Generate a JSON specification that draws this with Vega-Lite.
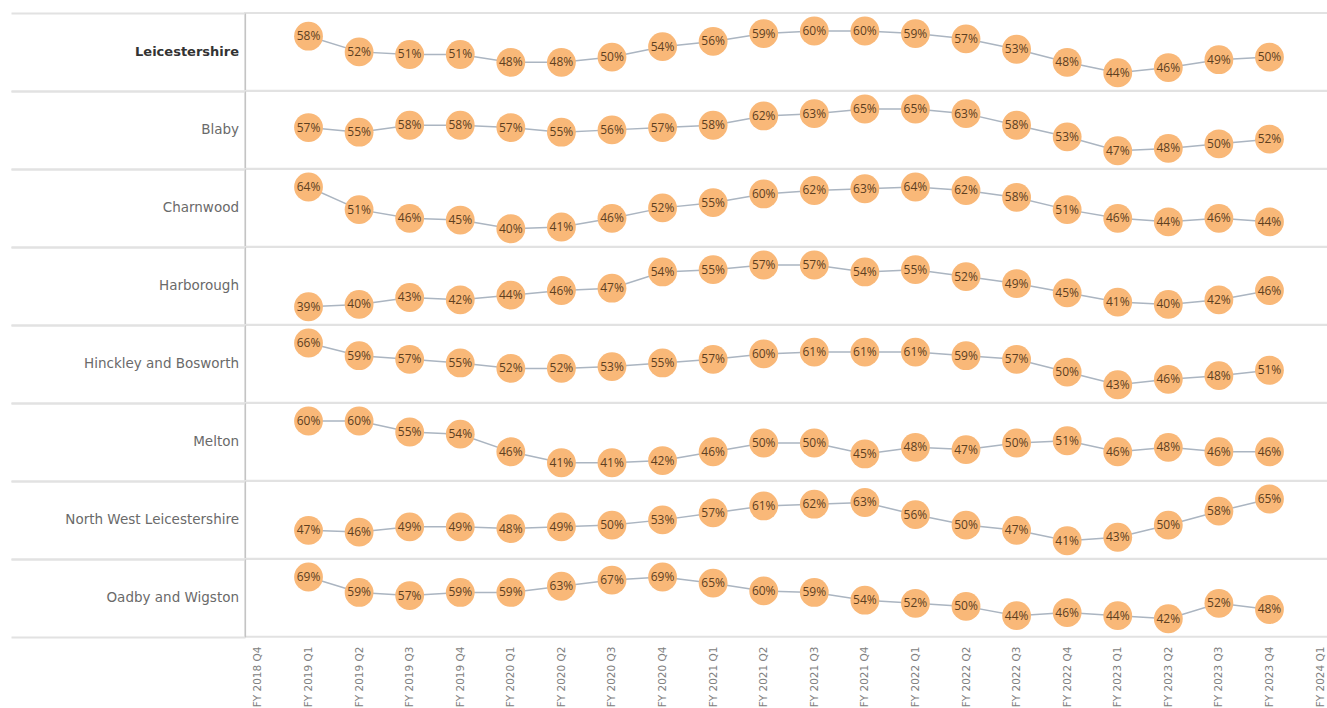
{
  "$schema": "https://vega.github.io/schema/vega-lite/v6.json",
  "background": "white",
  "bounds": "flush",
  "padding": {"left": 9, "top": 11, "right": 0, "bottom": 0},
  "datasets": {
    "d": [
      {"area": "Leicestershire", "quarter": "FY 2019 Q1", "value": 0.58},
      {"area": "Leicestershire", "quarter": "FY 2019 Q2", "value": 0.52},
      {"area": "Leicestershire", "quarter": "FY 2019 Q3", "value": 0.51},
      {"area": "Leicestershire", "quarter": "FY 2019 Q4", "value": 0.51},
      {"area": "Leicestershire", "quarter": "FY 2020 Q1", "value": 0.48},
      {"area": "Leicestershire", "quarter": "FY 2020 Q2", "value": 0.48},
      {"area": "Leicestershire", "quarter": "FY 2020 Q3", "value": 0.50},
      {"area": "Leicestershire", "quarter": "FY 2020 Q4", "value": 0.54},
      {"area": "Leicestershire", "quarter": "FY 2021 Q1", "value": 0.56},
      {"area": "Leicestershire", "quarter": "FY 2021 Q2", "value": 0.59},
      {"area": "Leicestershire", "quarter": "FY 2021 Q3", "value": 0.60},
      {"area": "Leicestershire", "quarter": "FY 2021 Q4", "value": 0.60},
      {"area": "Leicestershire", "quarter": "FY 2022 Q1", "value": 0.59},
      {"area": "Leicestershire", "quarter": "FY 2022 Q2", "value": 0.57},
      {"area": "Leicestershire", "quarter": "FY 2022 Q3", "value": 0.53},
      {"area": "Leicestershire", "quarter": "FY 2022 Q4", "value": 0.48},
      {"area": "Leicestershire", "quarter": "FY 2023 Q1", "value": 0.44},
      {"area": "Leicestershire", "quarter": "FY 2023 Q2", "value": 0.46},
      {"area": "Leicestershire", "quarter": "FY 2023 Q3", "value": 0.49},
      {"area": "Leicestershire", "quarter": "FY 2023 Q4", "value": 0.50},
      {"area": "Blaby", "quarter": "FY 2019 Q1", "value": 0.57},
      {"area": "Blaby", "quarter": "FY 2019 Q2", "value": 0.55},
      {"area": "Blaby", "quarter": "FY 2019 Q3", "value": 0.58},
      {"area": "Blaby", "quarter": "FY 2019 Q4", "value": 0.58},
      {"area": "Blaby", "quarter": "FY 2020 Q1", "value": 0.57},
      {"area": "Blaby", "quarter": "FY 2020 Q2", "value": 0.55},
      {"area": "Blaby", "quarter": "FY 2020 Q3", "value": 0.56},
      {"area": "Blaby", "quarter": "FY 2020 Q4", "value": 0.57},
      {"area": "Blaby", "quarter": "FY 2021 Q1", "value": 0.58},
      {"area": "Blaby", "quarter": "FY 2021 Q2", "value": 0.62},
      {"area": "Blaby", "quarter": "FY 2021 Q3", "value": 0.63},
      {"area": "Blaby", "quarter": "FY 2021 Q4", "value": 0.65},
      {"area": "Blaby", "quarter": "FY 2022 Q1", "value": 0.65},
      {"area": "Blaby", "quarter": "FY 2022 Q2", "value": 0.63},
      {"area": "Blaby", "quarter": "FY 2022 Q3", "value": 0.58},
      {"area": "Blaby", "quarter": "FY 2022 Q4", "value": 0.53},
      {"area": "Blaby", "quarter": "FY 2023 Q1", "value": 0.47},
      {"area": "Blaby", "quarter": "FY 2023 Q2", "value": 0.48},
      {"area": "Blaby", "quarter": "FY 2023 Q3", "value": 0.50},
      {"area": "Blaby", "quarter": "FY 2023 Q4", "value": 0.52},
      {"area": "Charnwood", "quarter": "FY 2019 Q1", "value": 0.64},
      {"area": "Charnwood", "quarter": "FY 2019 Q2", "value": 0.51},
      {"area": "Charnwood", "quarter": "FY 2019 Q3", "value": 0.46},
      {"area": "Charnwood", "quarter": "FY 2019 Q4", "value": 0.45},
      {"area": "Charnwood", "quarter": "FY 2020 Q1", "value": 0.40},
      {"area": "Charnwood", "quarter": "FY 2020 Q2", "value": 0.41},
      {"area": "Charnwood", "quarter": "FY 2020 Q3", "value": 0.46},
      {"area": "Charnwood", "quarter": "FY 2020 Q4", "value": 0.52},
      {"area": "Charnwood", "quarter": "FY 2021 Q1", "value": 0.55},
      {"area": "Charnwood", "quarter": "FY 2021 Q2", "value": 0.60},
      {"area": "Charnwood", "quarter": "FY 2021 Q3", "value": 0.62},
      {"area": "Charnwood", "quarter": "FY 2021 Q4", "value": 0.63},
      {"area": "Charnwood", "quarter": "FY 2022 Q1", "value": 0.64},
      {"area": "Charnwood", "quarter": "FY 2022 Q2", "value": 0.62},
      {"area": "Charnwood", "quarter": "FY 2022 Q3", "value": 0.58},
      {"area": "Charnwood", "quarter": "FY 2022 Q4", "value": 0.51},
      {"area": "Charnwood", "quarter": "FY 2023 Q1", "value": 0.46},
      {"area": "Charnwood", "quarter": "FY 2023 Q2", "value": 0.44},
      {"area": "Charnwood", "quarter": "FY 2023 Q3", "value": 0.46},
      {"area": "Charnwood", "quarter": "FY 2023 Q4", "value": 0.44},
      {"area": "Harborough", "quarter": "FY 2019 Q1", "value": 0.39},
      {"area": "Harborough", "quarter": "FY 2019 Q2", "value": 0.40},
      {"area": "Harborough", "quarter": "FY 2019 Q3", "value": 0.43},
      {"area": "Harborough", "quarter": "FY 2019 Q4", "value": 0.42},
      {"area": "Harborough", "quarter": "FY 2020 Q1", "value": 0.44},
      {"area": "Harborough", "quarter": "FY 2020 Q2", "value": 0.46},
      {"area": "Harborough", "quarter": "FY 2020 Q3", "value": 0.47},
      {"area": "Harborough", "quarter": "FY 2020 Q4", "value": 0.54},
      {"area": "Harborough", "quarter": "FY 2021 Q1", "value": 0.55},
      {"area": "Harborough", "quarter": "FY 2021 Q2", "value": 0.57},
      {"area": "Harborough", "quarter": "FY 2021 Q3", "value": 0.57},
      {"area": "Harborough", "quarter": "FY 2021 Q4", "value": 0.54},
      {"area": "Harborough", "quarter": "FY 2022 Q1", "value": 0.55},
      {"area": "Harborough", "quarter": "FY 2022 Q2", "value": 0.52},
      {"area": "Harborough", "quarter": "FY 2022 Q3", "value": 0.49},
      {"area": "Harborough", "quarter": "FY 2022 Q4", "value": 0.45},
      {"area": "Harborough", "quarter": "FY 2023 Q1", "value": 0.41},
      {"area": "Harborough", "quarter": "FY 2023 Q2", "value": 0.40},
      {"area": "Harborough", "quarter": "FY 2023 Q3", "value": 0.42},
      {"area": "Harborough", "quarter": "FY 2023 Q4", "value": 0.46},
      {"area": "Hinckley and Bosworth", "quarter": "FY 2019 Q1", "value": 0.66},
      {"area": "Hinckley and Bosworth", "quarter": "FY 2019 Q2", "value": 0.59},
      {"area": "Hinckley and Bosworth", "quarter": "FY 2019 Q3", "value": 0.57},
      {"area": "Hinckley and Bosworth", "quarter": "FY 2019 Q4", "value": 0.55},
      {"area": "Hinckley and Bosworth", "quarter": "FY 2020 Q1", "value": 0.52},
      {"area": "Hinckley and Bosworth", "quarter": "FY 2020 Q2", "value": 0.52},
      {"area": "Hinckley and Bosworth", "quarter": "FY 2020 Q3", "value": 0.53},
      {"area": "Hinckley and Bosworth", "quarter": "FY 2020 Q4", "value": 0.55},
      {"area": "Hinckley and Bosworth", "quarter": "FY 2021 Q1", "value": 0.57},
      {"area": "Hinckley and Bosworth", "quarter": "FY 2021 Q2", "value": 0.60},
      {"area": "Hinckley and Bosworth", "quarter": "FY 2021 Q3", "value": 0.61},
      {"area": "Hinckley and Bosworth", "quarter": "FY 2021 Q4", "value": 0.61},
      {"area": "Hinckley and Bosworth", "quarter": "FY 2022 Q1", "value": 0.61},
      {"area": "Hinckley and Bosworth", "quarter": "FY 2022 Q2", "value": 0.59},
      {"area": "Hinckley and Bosworth", "quarter": "FY 2022 Q3", "value": 0.57},
      {"area": "Hinckley and Bosworth", "quarter": "FY 2022 Q4", "value": 0.50},
      {"area": "Hinckley and Bosworth", "quarter": "FY 2023 Q1", "value": 0.43},
      {"area": "Hinckley and Bosworth", "quarter": "FY 2023 Q2", "value": 0.46},
      {"area": "Hinckley and Bosworth", "quarter": "FY 2023 Q3", "value": 0.48},
      {"area": "Hinckley and Bosworth", "quarter": "FY 2023 Q4", "value": 0.51},
      {"area": "Melton", "quarter": "FY 2019 Q1", "value": 0.60},
      {"area": "Melton", "quarter": "FY 2019 Q2", "value": 0.60},
      {"area": "Melton", "quarter": "FY 2019 Q3", "value": 0.55},
      {"area": "Melton", "quarter": "FY 2019 Q4", "value": 0.54},
      {"area": "Melton", "quarter": "FY 2020 Q1", "value": 0.46},
      {"area": "Melton", "quarter": "FY 2020 Q2", "value": 0.41},
      {"area": "Melton", "quarter": "FY 2020 Q3", "value": 0.41},
      {"area": "Melton", "quarter": "FY 2020 Q4", "value": 0.42},
      {"area": "Melton", "quarter": "FY 2021 Q1", "value": 0.46},
      {"area": "Melton", "quarter": "FY 2021 Q2", "value": 0.50},
      {"area": "Melton", "quarter": "FY 2021 Q3", "value": 0.50},
      {"area": "Melton", "quarter": "FY 2021 Q4", "value": 0.45},
      {"area": "Melton", "quarter": "FY 2022 Q1", "value": 0.48},
      {"area": "Melton", "quarter": "FY 2022 Q2", "value": 0.47},
      {"area": "Melton", "quarter": "FY 2022 Q3", "value": 0.50},
      {"area": "Melton", "quarter": "FY 2022 Q4", "value": 0.51},
      {"area": "Melton", "quarter": "FY 2023 Q1", "value": 0.46},
      {"area": "Melton", "quarter": "FY 2023 Q2", "value": 0.48},
      {"area": "Melton", "quarter": "FY 2023 Q3", "value": 0.46},
      {"area": "Melton", "quarter": "FY 2023 Q4", "value": 0.46},
      {"area": "North West Leicestershire", "quarter": "FY 2019 Q1", "value": 0.47},
      {"area": "North West Leicestershire", "quarter": "FY 2019 Q2", "value": 0.46},
      {"area": "North West Leicestershire", "quarter": "FY 2019 Q3", "value": 0.49},
      {"area": "North West Leicestershire", "quarter": "FY 2019 Q4", "value": 0.49},
      {"area": "North West Leicestershire", "quarter": "FY 2020 Q1", "value": 0.48},
      {"area": "North West Leicestershire", "quarter": "FY 2020 Q2", "value": 0.49},
      {"area": "North West Leicestershire", "quarter": "FY 2020 Q3", "value": 0.50},
      {"area": "North West Leicestershire", "quarter": "FY 2020 Q4", "value": 0.53},
      {"area": "North West Leicestershire", "quarter": "FY 2021 Q1", "value": 0.57},
      {"area": "North West Leicestershire", "quarter": "FY 2021 Q2", "value": 0.61},
      {"area": "North West Leicestershire", "quarter": "FY 2021 Q3", "value": 0.62},
      {"area": "North West Leicestershire", "quarter": "FY 2021 Q4", "value": 0.63},
      {"area": "North West Leicestershire", "quarter": "FY 2022 Q1", "value": 0.56},
      {"area": "North West Leicestershire", "quarter": "FY 2022 Q2", "value": 0.50},
      {"area": "North West Leicestershire", "quarter": "FY 2022 Q3", "value": 0.47},
      {"area": "North West Leicestershire", "quarter": "FY 2022 Q4", "value": 0.41},
      {"area": "North West Leicestershire", "quarter": "FY 2023 Q1", "value": 0.43},
      {"area": "North West Leicestershire", "quarter": "FY 2023 Q2", "value": 0.50},
      {"area": "North West Leicestershire", "quarter": "FY 2023 Q3", "value": 0.58},
      {"area": "North West Leicestershire", "quarter": "FY 2023 Q4", "value": 0.65},
      {"area": "Oadby and Wigston", "quarter": "FY 2019 Q1", "value": 0.69},
      {"area": "Oadby and Wigston", "quarter": "FY 2019 Q2", "value": 0.59},
      {"area": "Oadby and Wigston", "quarter": "FY 2019 Q3", "value": 0.57},
      {"area": "Oadby and Wigston", "quarter": "FY 2019 Q4", "value": 0.59},
      {"area": "Oadby and Wigston", "quarter": "FY 2020 Q1", "value": 0.59},
      {"area": "Oadby and Wigston", "quarter": "FY 2020 Q2", "value": 0.63},
      {"area": "Oadby and Wigston", "quarter": "FY 2020 Q3", "value": 0.67},
      {"area": "Oadby and Wigston", "quarter": "FY 2020 Q4", "value": 0.69},
      {"area": "Oadby and Wigston", "quarter": "FY 2021 Q1", "value": 0.65},
      {"area": "Oadby and Wigston", "quarter": "FY 2021 Q2", "value": 0.60},
      {"area": "Oadby and Wigston", "quarter": "FY 2021 Q3", "value": 0.59},
      {"area": "Oadby and Wigston", "quarter": "FY 2021 Q4", "value": 0.54},
      {"area": "Oadby and Wigston", "quarter": "FY 2022 Q1", "value": 0.52},
      {"area": "Oadby and Wigston", "quarter": "FY 2022 Q2", "value": 0.50},
      {"area": "Oadby and Wigston", "quarter": "FY 2022 Q3", "value": 0.44},
      {"area": "Oadby and Wigston", "quarter": "FY 2022 Q4", "value": 0.46},
      {"area": "Oadby and Wigston", "quarter": "FY 2023 Q1", "value": 0.44},
      {"area": "Oadby and Wigston", "quarter": "FY 2023 Q2", "value": 0.42},
      {"area": "Oadby and Wigston", "quarter": "FY 2023 Q3", "value": 0.52},
      {"area": "Oadby and Wigston", "quarter": "FY 2023 Q4", "value": 0.48}
    ]
  },
  "data": {"name": "d"},
  "facet": {
    "row": {
      "field": "area",
      "type": "nominal",
      "title": null,
      "sort": ["Leicestershire", "Blaby", "Charnwood", "Harborough", "Hinckley and Bosworth", "Melton", "North West Leicestershire", "Oadby and Wigston"],
      "header": {
        "labelAngle": 0,
        "labelAlign": "left",
        "labelPadding": 6,
        "labelFont": "DejaVu Sans",
        "labelFontSize": {"expr": "parent['area'] === 'Leicestershire' ? 13 : 13.5"},
        "labelFontWeight": {"expr": "parent['area'] === 'Leicestershire' ? 'bold' : 'normal'"},
        "labelColor": {"expr": "parent['area'] === 'Leicestershire' ? '#333333' : '#6a6a6a'"}
      }
    }
  },
  "spacing": 0,
  "resolve": {"scale": {"y": "independent"}},
  "spec": {
    "width": 1088,
    "height": 77.75,
    "encoding": {
      "x": {
        "field": "quarter",
        "type": "ordinal",
        "scale": {
          "type": "point",
          "padding": 0.256,
          "domain": ["FY 2018 Q4", "FY 2019 Q1", "FY 2019 Q2", "FY 2019 Q3", "FY 2019 Q4", "FY 2020 Q1", "FY 2020 Q2", "FY 2020 Q3", "FY 2020 Q4", "FY 2021 Q1", "FY 2021 Q2", "FY 2021 Q3", "FY 2021 Q4", "FY 2022 Q1", "FY 2022 Q2", "FY 2022 Q3", "FY 2022 Q4", "FY 2023 Q1", "FY 2023 Q2", "FY 2023 Q3", "FY 2023 Q4", "FY 2024 Q1"]
        },
        "axis": {
          "title": null,
          "labelAngle": -90,
          "labelFont": "DejaVu Sans",
          "labelFontSize": 10.5,
          "labelColor": "#808080",
          "labelPadding": 9,
          "ticks": false,
          "domain": false,
          "grid": false
        }
      },
      "y": {
        "field": "value",
        "type": "quantitative",
        "scale": {"zero": false, "nice": false, "padding": 18},
        "axis": {
          "title": null,
          "labels": false,
          "ticks": true,
          "values": {"expr": "domain('child_y')"},
          "tickSize": 234,
          "tickColor": "#e2e2e2",
          "tickWidth": 2,
          "grid": false,
          "domain": true,
          "domainColor": "#c4c4c4",
          "domainWidth": 1.2
        }
      }
    },
    "layer": [
      {"mark": {"type": "line", "color": "#abb5c1", "strokeWidth": 1.5}},
      {"mark": {"type": "circle", "size": 830, "color": "#f9b878", "opacity": 1}},
      {
        "mark": {"type": "text", "font": "Open Sans", "fontSize": 12, "color": "#5e3f1f"},
        "encoding": {"text": {"field": "value", "type": "quantitative", "format": ".0%"}}
      }
    ]
  },
  "config": {
    "view": {"stroke": "#e2e2e2", "strokeWidth": 2}
  }
}
